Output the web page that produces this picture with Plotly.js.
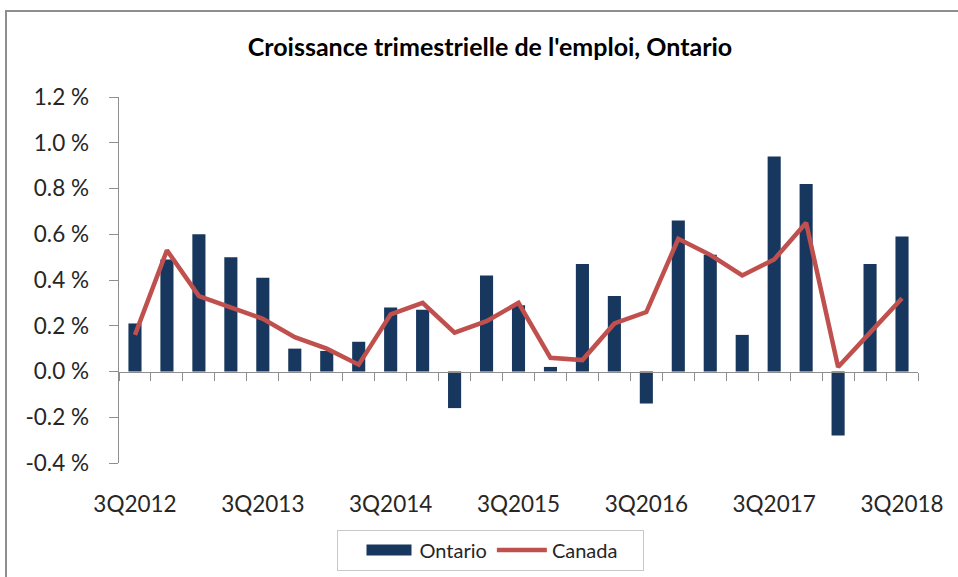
<!DOCTYPE html>
<html>
<head>
<meta charset="utf-8">
<script src="https://cdn.plot.ly/plotly-3.0.1.min.js"></script>
<style>
  html, body { margin: 0; padding: 0; background: #fff; overflow: hidden; }
  #chart { width: 958px; height: 577px; position: absolute; left: 0; top: 0; }
  #frame { position: absolute; left: 5px; top: 10px; width: 1000px; height: 620px;
           border: 2px solid #8e8e8e; pointer-events: none; }
</style>
</head>
<body>
<div id="chart"></div>
<div id="frame"></div>
<script>
const quarters = [
  "3Q2012","4Q2012","1Q2013","2Q2013","3Q2013","4Q2013","1Q2014","2Q2014",
  "3Q2014","4Q2014","1Q2015","2Q2015","3Q2015","4Q2015","1Q2016","2Q2016",
  "3Q2016","4Q2016","1Q2017","2Q2017","3Q2017","4Q2017","1Q2018","2Q2018","3Q2018"
];
const ontario = [0.21,0.49,0.60,0.50,0.41,0.10,0.09,0.13,0.28,0.27,-0.16,0.42,0.29,0.02,0.47,0.33,-0.14,0.66,0.51,0.16,0.94,0.82,-0.28,0.47,0.59];
const canada  = [0.16,0.53,0.33,0.28,0.23,0.15,0.10,0.03,0.25,0.30,0.17,0.22,0.30,0.06,0.05,0.21,0.26,0.58,0.51,0.42,0.49,0.65,0.02,0.17,0.32];
const tickLabels = ["3Q2012","3Q2013","3Q2014","3Q2015","3Q2016","3Q2017","3Q2018"];
const yTicks = [-0.4,-0.2,0.0,0.2,0.4,0.6,0.8,1.0,1.2];
const yTickText = ["-0.4 %","-0.2 %","0.0 %","0.2 %","0.4 %","0.6 %","0.8 %","1.0 %","1.2 %"];

const FONT = "Lato, 'Open Sans', sans-serif";

const traces = [
  {
    type: "bar", name: "Ontario", x: quarters, y: ontario,
    marker: { color: "#17375E" }, xaxis: "x", yaxis: "y"
  },
  {
    type: "scatter", mode: "lines", name: "Canada", x: quarters, y: canada,
    line: { color: "#C0504D", width: 4.5 }, xaxis: "x", yaxis: "y"
  },
  {
    type: "scatter", mode: "lines", x: quarters, y: quarters.map(() => null),
    xaxis: "x2", yaxis: "y", showlegend: false, hoverinfo: "skip"
  }
];

const layout = {
  width: 958, height: 577,
  margin: { l: 119, r: 40, t: 97, b: 114 },
  paper_bgcolor: "#fff", plot_bgcolor: "#fff",
  font: { family: FONT, color: "#262626" },
  title: {
    text: "<b>Croissance trimestrielle de l'emploi, Ontario</b>",
    font: { family: FONT, size: 25, color: "#000" },
    x: 490 / 958, xref: "container", xanchor: "center",
    y: 1 - 47 / 577, yref: "container", yanchor: "middle"
  },
  bargap: 0.59,
  showlegend: true,
  legend: {
    orientation: "h",
    x: 491 / 958, xref: "container", xanchor: "center",
    y: 1 - 550 / 577, yref: "container", yanchor: "middle",
    bordercolor: "#c8c8c8", borderwidth: 1,
    font: { family: FONT, size: 20, color: "#262626" },
    itemwidth: 50, traceorder: "normal"
  },
  xaxis: {
    type: "category", categoryorder: "array", categoryarray: quarters,
    range: [-0.5, quarters.length - 0.5],
    tickmode: "array", tickvals: tickLabels, ticktext: tickLabels,
    ticks: "outside", ticklen: 21, tickcolor: "rgba(0,0,0,0)",
    showline: false, showgrid: false, zeroline: false,
    tickfont: { family: FONT, size: 22.5, color: "#262626" },
    fixedrange: true
  },
  xaxis2: {
    type: "category", categoryorder: "array", categoryarray: quarters,
    range: [-0.5, quarters.length - 0.5],
    overlaying: "x", anchor: "free", position: 0.25,
    tickmode: "linear", tick0: 0, dtick: 1, tickson: "boundaries",
    ticks: "outside", ticklen: 8, tickcolor: "#8e8e8e", tickwidth: 1,
    showline: true, linecolor: "#8e8e8e", linewidth: 1.5,
    showticklabels: false, showgrid: false, zeroline: false,
    fixedrange: true
  },
  yaxis: {
    range: [-0.4, 1.2],
    tickmode: "array", tickvals: yTicks, ticktext: yTickText,
    ticks: "outside", ticklen: 9, tickcolor: "#8e8e8e",
    ticklabelstandoff: 15,
    showline: true, linecolor: "#8e8e8e", linewidth: 1.5,
    showgrid: false, zeroline: false,
    tickfont: { family: FONT, size: 22.5, color: "#262626" },
    fixedrange: true
  }
};

Plotly.newPlot("chart", traces, layout, { displayModeBar: false, staticPlot: true }).then(function (gd) {
  try {
    // widen the bar swatch in the legend to look like a wide block
    const barSym = gd.querySelector(".legend .traces .legendpoints path");
    if (barSym) barSym.setAttribute("d", "M-23,5.5H22V-5.5H-23Z");
    // add side padding to the legend box
    const bg = gd.querySelector(".legend rect.bg");
    if (bg) {
      const x = parseFloat(bg.getAttribute("x") || "0");
      const w = parseFloat(bg.getAttribute("width"));
      bg.setAttribute("x", x - 22);
      bg.setAttribute("width", w + 42);
    }
  } catch (e) {}
});
</script>
</body>
</html>
